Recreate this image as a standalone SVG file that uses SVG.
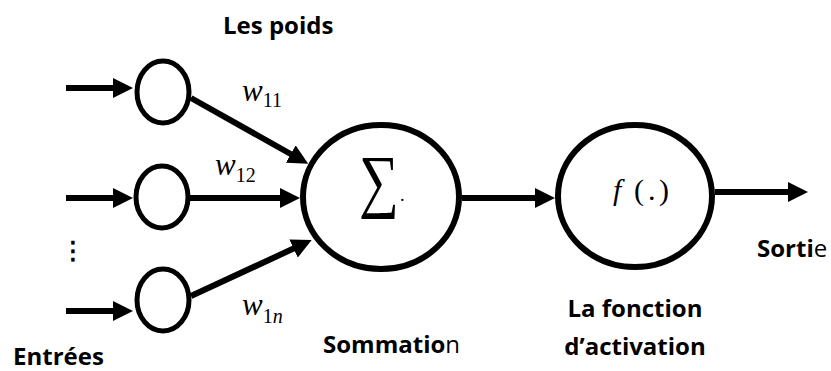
<svg xmlns="http://www.w3.org/2000/svg" width="831" height="371" viewBox="0 0 831 371">
  <style>
    .node { fill: #ffffff; stroke: #000000; }
    .small { stroke-width: 5; }
    .big { stroke-width: 6; }
    .edge { stroke: #000000; stroke-width: 6; fill: none; marker-end: url(#head); }
    .lbl { font-family: "Open Sans", "Liberation Sans", sans-serif; font-size: 24px; fill: #000; }
    .b { font-weight: 700; }
    .r { font-weight: 400; }
    .math { font-family: "Liberation Serif", "DejaVu Serif", serif; fill: #000; }
    .it { font-style: italic; }
  </style>
  <defs>
    <marker id="head" viewBox="0 0 20 20" markerUnits="userSpaceOnUse" markerWidth="20" markerHeight="20" refX="6" refY="10" orient="auto">
      <path d="M0,0 L20,10 L0,20 Z" fill="#000"/>
    </marker>
  </defs>

  <!-- connectors -->
  <g id="connectors">
    <line class="edge" x1="66" y1="88" x2="119" y2="88"/>
    <line class="edge" x1="66" y1="198" x2="119" y2="198"/>
    <line class="edge" x1="66" y1="311" x2="119" y2="311"/>
    <line class="edge" x1="191" y1="98" x2="296" y2="157"/>
    <line class="edge" x1="190" y1="198" x2="286" y2="198"/>
    <line class="edge" x1="191" y1="296" x2="299" y2="246"/>
    <line class="edge" x1="462" y1="198" x2="541" y2="198"/>
    <line class="edge" x1="715" y1="192" x2="794" y2="192"/>
  </g>

  <!-- input neurons -->
  <g id="input1"><ellipse class="node small" cx="163" cy="92" rx="26" ry="31"/></g>
  <g id="input2"><ellipse class="node small" cx="162" cy="197" rx="26" ry="31"/></g>
  <g id="input3"><ellipse class="node small" cx="163" cy="300" rx="26" ry="31"/></g>

  <!-- summation node -->
  <g id="sum">
    <ellipse class="node big" cx="381" cy="197" rx="78" ry="72"/>
    <text class="math" font-size="56" transform="translate(359,204) scale(1,1.25)">∑</text>
    <text class="math" x="400" y="201" font-size="18">.</text>
  </g>

  <!-- activation node -->
  <g id="activation">
    <ellipse class="node big" cx="635" cy="196" rx="77" ry="71"/>
    <text class="math" y="200" font-size="30"><tspan class="it" x="613">f</tspan><tspan x="634">(</tspan><tspan x="648">.</tspan><tspan x="659">)</tspan></text>
  </g>

  <!-- weights -->
  <g id="weights">
    <text class="math" x="242" y="101" font-size="31"><tspan class="it">w</tspan><tspan dy="6" font-size="20">11</tspan></text>
    <text class="math" x="215" y="175" font-size="31"><tspan class="it">w</tspan><tspan dy="7" font-size="20">12</tspan></text>
    <text class="math" x="242" y="315" font-size="31"><tspan class="it">w</tspan><tspan dy="8" font-size="20">1</tspan><tspan class="it" font-size="20">n</tspan></text>
  </g>

  <!-- captions -->
  <g id="labels">
    <text class="lbl b" x="223" y="34">Les poids</text>
    <text x="73" y="259" font-size="25" stroke="#000" stroke-width="0.8" text-anchor="middle" font-family="DejaVu Sans, sans-serif">⋮</text>
    <text class="lbl b" x="13" y="365">Entrées</text>
    <text class="lbl" x="323" y="353"><tspan class="b">Sommatio</tspan><tspan class="r">n</tspan></text>
    <text class="lbl b" x="635" y="317" text-anchor="middle">La fonction</text>
    <text class="lbl b" x="635" y="355" text-anchor="middle">d’activation</text>
    <text class="lbl" x="757" y="257"><tspan class="b">Sorti</tspan><tspan class="r">e</tspan></text>
  </g>
</svg>
